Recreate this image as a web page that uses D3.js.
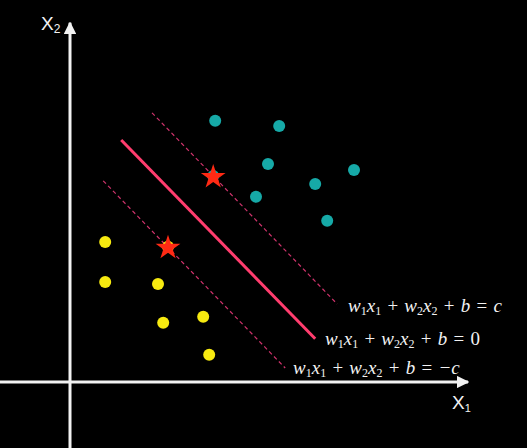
<!DOCTYPE html>
<html>
<head>
<meta charset="utf-8">
<script src="https://cdn.jsdelivr.net/npm/d3@7"></script>
<style>
  html, body { margin: 0; padding: 0; background: #000; }
  svg { display: block; }
  .eq { font-family: "Liberation Serif", "DejaVu Serif", serif; font-style: italic; fill: #f2f2f2; }
  .axlbl { font-family: "Liberation Sans", Arial, sans-serif; fill: #f2f2f2; }
</style>
</head>
<body>
<svg id="chart" width="527" height="448"></svg>
<script>
// class +1 (teal) points, x1 / x2 in axis units
var teal_x1 = [3.63, 5.23, 4.95, 7.10, 6.13, 4.65, 6.43, 3.58];
var teal_x2 = [6.53, 6.40, 5.45, 5.30, 4.95, 4.63, 4.03, 5.15];
// class -1 (yellow) points
var yel_x1 = [0.88, 0.88, 2.20, 2.33, 3.33, 3.48, 2.45];
var yel_x2 = [3.50, 2.50, 2.45, 1.48, 1.63, 0.68, 3.38];
// support vectors
var sv_x1 = [3.58, 2.45];
var sv_x2 = [5.15, 3.38];
// boundary + margins: [start, end] points
var lineNames = ["plus", "zero", "minus"];
var line_x1 = [[2.05, 6.68], [1.28, 6.13], [0.83, 5.38]];
var line_x2 = [[6.73, 1.95], [6.05, 1.08], [5.03, 0.35]];
var lineLabels = ["c", "0", "\u2212c"];

var svg = d3.select("#chart");

var x = d3.scaleLinear().domain([0, 10]).range([70, 470]);
var y = d3.scaleLinear().domain([0, 9]).range([382, 22]);

// arrow marker
var defs = svg.append("defs");
defs.append("marker")
    .attr("id", "arr")
    .attr("viewBox", "0 0 10 10")
    .attr("refX", 9).attr("refY", 5)
    .attr("markerWidth", 4.2).attr("markerHeight", 4.2)
    .attr("markerUnits", "strokeWidth")
    .attr("orient", "auto")
  .append("path")
    .attr("d", "M0,0 L10,5 L0,10 z")
    .attr("fill", "#f2f2f2");

// axes
svg.append("line")
    .attr("x1", 0).attr("y1", y(0))
    .attr("x2", x(9.95)).attr("y2", y(0))
    .attr("stroke", "#f2f2f2").attr("stroke-width", 3)
    .attr("marker-end", "url(#arr)");
svg.append("line")
    .attr("x1", x(0)).attr("y1", 448)
    .attr("x2", x(0)).attr("y2", y(8.98))
    .attr("stroke", "#f2f2f2").attr("stroke-width", 3)
    .attr("marker-end", "url(#arr)");

var xl = svg.append("text").attr("class", "axlbl")
    .attr("x", 452).attr("y", 409).attr("font-size", 19);
xl.append("tspan").text("X");
xl.append("tspan").attr("font-size", 11).attr("dy", 3).text("1");

var yl = svg.append("text").attr("class", "axlbl")
    .attr("x", 41).attr("y", 30).attr("font-size", 19);
yl.append("tspan").text("X");
yl.append("tspan").attr("font-size", 12).attr("dy", 3).text("2");

// lines
lineNames.forEach(function(n, i) {
    var solid = n == "zero";
    svg.append("line")
        .attr("x1", x(line_x1[i][0])).attr("y1", y(line_x2[i][0]))
        .attr("x2", x(line_x1[i][1])).attr("y2", y(line_x2[i][1]))
        .attr("stroke", solid ? "#ff3d6e" : "#d0336c")
        .attr("stroke-width", solid ? 3 : 1.2)
        .attr("stroke-dasharray", solid ? null : "4,3");
});

// points
var teal = d3.range(teal_x1.length).map(function(i) { return [teal_x1[i], teal_x2[i]]; });
var yel = d3.range(yel_x1.length).map(function(i) { return [yel_x1[i], yel_x2[i]]; });

svg.selectAll(".teal").data(teal).enter().append("circle")
    .attr("class", "teal")
    .attr("cx", function(d) { return x(d[0]); })
    .attr("cy", function(d) { return y(d[1]); })
    .attr("r", 6)
    .attr("fill", "#16a9a7");

svg.selectAll(".yel").data(yel).enter().append("circle")
    .attr("class", "yel")
    .attr("cx", function(d) { return x(d[0]); })
    .attr("cy", function(d) { return y(d[1]); })
    .attr("r", 6)
    .attr("fill", "#f7ea10");

// support vector stars
var star = d3.symbol().type(d3.symbolStar).size(190);
svg.selectAll(".sv").data(sv_x1).enter().append("path")
    .attr("class", "sv")
    .attr("transform", function(d, i) { return "translate(" + x(d) + "," + (y(sv_x2[i]) + 1) + ")"; })
    .attr("d", star)
    .attr("fill", "#ff2a14");

// equation labels at line ends
var eqPos = [[348, 312], [325, 345], [293, 374]];
lineNames.forEach(function(n, i) {
    var t = svg.append("text").attr("class", "eq")
        .attr("x", eqPos[i][0]).attr("y", eqPos[i][1])
        .attr("font-size", 19);
    t.append("tspan").text("w");
    t.append("tspan").attr("font-size", 12).attr("dy", 3).attr("font-style", "normal").text("1");
    t.append("tspan").attr("dy", -3).text("x");
    t.append("tspan").attr("font-size", 12).attr("dy", 3).attr("font-style", "normal").text("1");
    t.append("tspan").attr("dy", -3).attr("dx", 1.5).attr("font-style", "normal").text(" + ");
    t.append("tspan").attr("dx", 1.5).text("w");
    t.append("tspan").attr("font-size", 12).attr("dy", 3).attr("font-style", "normal").text("2");
    t.append("tspan").attr("dy", -3).text("x");
    t.append("tspan").attr("font-size", 12).attr("dy", 3).attr("font-style", "normal").text("2");
    t.append("tspan").attr("dy", -3).attr("dx", 1.5).attr("font-style", "normal").text(" + ");
    t.append("tspan").attr("dx", 1.5).text("b");
    t.append("tspan").attr("dx", 1.5).attr("font-style", "normal").text(" = ");
    t.append("tspan").attr("dx", 1.5).attr("font-style", lineLabels[i] == "0" ? "normal" : "italic").text(lineLabels[i]);
});
</script>
</body>
</html>
